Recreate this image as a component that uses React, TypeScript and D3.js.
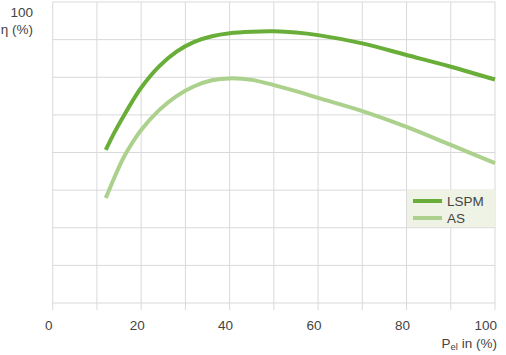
import React from "react";
import * as d3 from "d3";

const xValues = [12, 14, 16, 18, 20, 24, 28, 32, 36, 40, 45, 50, 55, 60, 70, 80, 90, 100];
const lspm = [60.7, 65.4, 69.6, 73.6, 77.2, 82.8, 86.8, 89.4, 90.9, 91.7, 92.1, 92.2, 91.9, 91.2, 89.0, 85.9, 82.8, 79.4];
const as = [47.9, 53.5, 58.6, 62.6, 66.0, 71.2, 75.0, 77.6, 79.2, 79.7, 79.3, 77.9, 76.3, 74.5, 71.0, 66.8, 62.0, 57.2];
const xTickLabels = [0, 20, 40, 60, 80, 100];
const seriesNames = ["LSPM", "AS"];
const seriesColors = ["#6aae3a", "#abd18c"];

const W = 506, H = 355;
const left = 52.7, right = 495, top = 2, bottom = 303;

export default function App() {
  const x = d3.scaleLinear().domain([0, 100]).range([left, right]);
  const y = d3.scaleLinear().domain([20, 100]).range([bottom, top]);
  const line = d3.line<number>()
    .x((_, i) => x(xValues[i]))
    .y((d) => y(d))
    .curve(d3.curveCatmullRom.alpha(0.5));
  const vGrid = d3.range(0, 101, 10);
  const hGrid = d3.range(20, 101, 10);
  const grid = "#d9d9d9";
  const font = "'Liberation Sans', Arial, sans-serif";
  const txt = "#444";
  const series = [lspm, as];
  return (
    <svg width={W} height={H} style={{ position: "absolute", left: 0, top: 0, background: "#fff" }}>
      {vGrid.map((v) => (
        <line key={"v" + v} x1={x(v)} x2={x(v)} y1={top} y2={bottom + 7} stroke={grid} strokeWidth={1} />
      ))}
      {hGrid.map((v) => (
        <line key={"h" + v} x1={left} x2={right} y1={y(v)} y2={y(v)} stroke={grid} strokeWidth={1} />
      ))}
      {series.map((s, i) => (
        <path key={i} d={line(s) || ""} fill="none" stroke={seriesColors[i]} strokeWidth={4} strokeLinecap="butt" strokeLinejoin="round" />
      ))}
      {xTickLabels.map((v, i) => {
        const last = i === xTickLabels.length - 1;
        return (
          <text key={v} x={last ? x(v) + 2 : x(v) - 4} y={330} textAnchor={last ? "end" : "middle"}
            fontFamily={font} fontSize={13.5} fill={txt}>{v}</text>
        );
      })}
      <text x={497} y={348} textAnchor="end" fontFamily={font} fontSize={13.5} fill={txt}>
        P<tspan fontSize={9.5} dy={2}>el</tspan><tspan dy={-2}> in (%)</tspan>
      </text>
      <text x={33} y={17} textAnchor="end" fontFamily={font} fontSize={13.5} fill={txt}>100</text>
      <text x={33} y={34} textAnchor="end" fontFamily={font} fontSize={13.5} fill={txt}>η (%)</text>
      <rect x={407} y={190} width={88} height={37} fill="#eef3e6" />
      {seriesNames.map((n, i) => (
        <g key={n}>
          <line x1={413} x2={442} y1={201 + i * 17} y2={201 + i * 17} stroke={seriesColors[i]} strokeWidth={4} />
          <text x={447} y={206 + i * 17} fontFamily={font} fontSize={13.5} fill={txt}>{n}</text>
        </g>
      ))}
    </svg>
  );
}
